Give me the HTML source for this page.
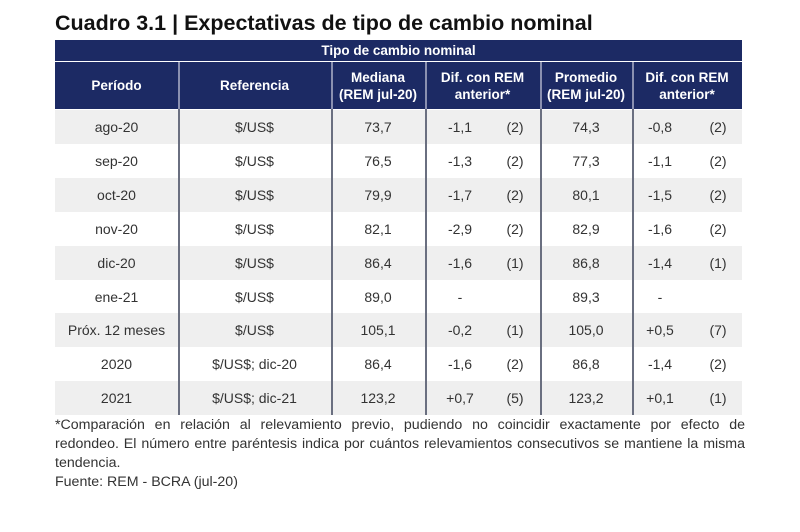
<!DOCTYPE html>
<html><head><meta charset="utf-8"><style>
body{margin:0;width:800px;height:532px;background:#fff;font-family:"Liberation Sans",sans-serif;position:relative;overflow:hidden}
.t{position:absolute;left:55px;top:11px;font-size:21.5px;font-weight:bold;color:#111;letter-spacing:0px}
.band{position:absolute;left:55px;width:687px;background:#1c2a64}
.h{position:absolute;color:#fff;font-weight:bold;font-size:13.5px;text-align:center;line-height:17px}
.row{position:absolute;left:55px;width:687px;height:34px}
.c{position:absolute;font-size:14px;color:#333;line-height:34px;text-align:center}
.vl{position:absolute;width:1.5px;background:#6a6f80}
.hv{position:absolute;width:1.5px;background:#8a90b0;top:62px;height:47px}
.fn{position:absolute;left:55px;width:690px;font-size:14.2px;color:#333;line-height:19px}
.fn span{display:block;text-align:justify;text-align-last:justify}
.fn span.last{text-align-last:left}
</style></head><body>
<div class="t">Cuadro 3.1 | Expectativas de tipo de cambio nominal</div>
<div class="band" style="top:40px;height:21px"></div>
<div class="h" style="left:55px;width:687px;top:42px">Tipo de cambio nominal</div>
<div class="band" style="top:62px;height:47px"></div>
<div class="hv" style="left:178px"></div><div class="hv" style="left:331px"></div><div class="hv" style="left:425px"></div><div class="hv" style="left:540px"></div><div class="hv" style="left:632px"></div>
<div class="h" style="left:55px;width:123px;top:77px">Período</div>
<div class="h" style="left:178px;width:153px;top:77px">Referencia</div>
<div class="h" style="left:331px;width:94px;top:69px">Mediana<br>(REM jul-20)</div>
<div class="h" style="left:425px;width:115px;top:69px">Dif. con REM<br>anterior*</div>
<div class="h" style="left:540px;width:92px;top:69px">Promedio<br>(REM jul-20)</div>
<div class="h" style="left:632px;width:110px;top:69px">Dif. con REM<br>anterior*</div>
<div id="rows"></div>
<div class="fn" style="top:416px"><span>*Comparación en relación al relevamiento previo, pudiendo no coincidir exactamente por efecto de</span><span>redondeo. El número entre paréntesis indica por cuántos relevamientos consecutivos se mantiene la misma</span><span class="last">tendencia.</span></div>
<div class="fn" style="top:473px">Fuente: REM - BCRA (jul-20)</div>
<script>
const periods=["ago-20","sep-20","oct-20","nov-20","dic-20","ene-21","Próx. 12 meses","2020","2021"];
const refs=["$/US$","$/US$","$/US$","$/US$","$/US$","$/US$","$/US$","$/US$; dic-20","$/US$; dic-21"];
const medianas=["73,7","76,5","79,9","82,1","86,4","89,0","105,1","86,4","123,2"];
const difMed=["-1,1","-1,3","-1,7","-2,9","-1,6","-","-0,2","-1,6","+0,7"];
const nMed=["(2)","(2)","(2)","(2)","(1)","","(1)","(2)","(5)"];
const promedios=["74,3","77,3","80,1","82,9","86,8","89,3","105,0","86,8","123,2"];
const difProm=["-0,8","-1,1","-1,5","-1,6","-1,4","-","+0,5","-1,4","+0,1"];
const nProm=["(2)","(2)","(2)","(2)","(1)","","(7)","(2)","(1)"];
const host=document.getElementById('rows');
function cell(txt,l,w,top,align,name){const d=document.createElement('div');d.className='c';d.style.left=l+'px';d.style.width=w+'px';d.style.top=top+'px';if(align)d.style.textAlign=align;d.textContent=txt;


host.appendChild(d);}
periods.forEach((p,i)=>{const top=110+i*33.9;
const r=document.createElement('div');r.className='row';r.style.top=top+'px';r.style.background=i%2==0?'#efefef':'#fff';


host.appendChild(r);
cell(p,55,123,top,'','periodo-cell');
cell(refs[i],178,153,top,'','referencia-cell');
cell(medianas[i],331,94,top,'','mediana-cell');
cell(difMed[i],440,40,top,'center','dif-mediana-cell');
cell(nMed[i],500,30,top,'center','count-mediana-cell');
cell(promedios[i],540,92,top,'','promedio-cell');
cell(difProm[i],645,30,top,'center','dif-promedio-cell');
cell(nProm[i],703,30,top,'center','count-promedio-cell');
});
[178,331,425,540,632].forEach(x=>{const v=document.createElement('div');v.className='vl';v.style.left=x+'px';v.style.top='109px';v.style.height='306px';


host.appendChild(v);});
</script>
</body></html>
